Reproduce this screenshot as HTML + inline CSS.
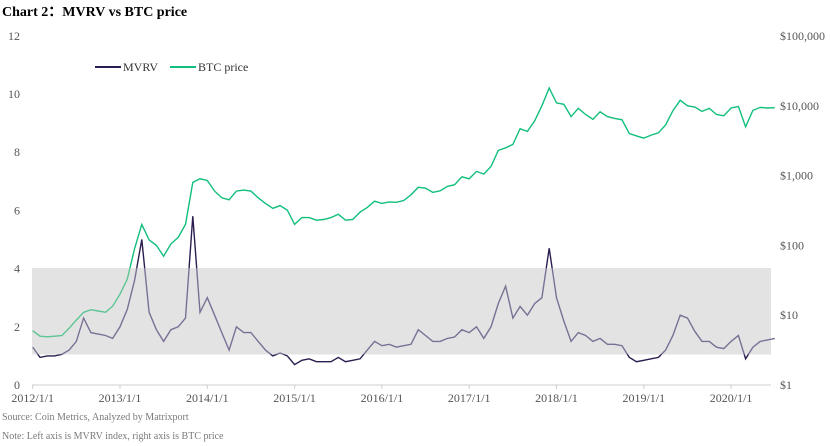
<!DOCTYPE html>
<html><head><meta charset="utf-8">
<style>
html,body{margin:0;padding:0;background:#fff;width:830px;height:446px;overflow:hidden}
svg{display:block;font-family:"Liberation Serif",serif}
</style></head>
<body>
<svg id="chart" width="830" height="446">
<text x="2" y="16" font-size="14" font-weight="bold" fill="#000">Chart 2：MVRV vs BTC price</text>
<rect x="32" y="268" width="739" height="86.5" fill="#e3e3e3"/>
<g id="yl"></g>
<g id="yr"></g>
<g id="xa"></g>
<g id="series"></g>
<g>
<g><line x1="95" y1="67" x2="121" y2="67" stroke="#2b1d4f" stroke-width="2"/><text x="123" y="71" font-size="12" fill="#333">MVRV</text></g>
<g><line x1="170" y1="67" x2="196" y2="67" stroke="#10bf7b" stroke-width="2"/><text x="198" y="71" font-size="12" fill="#333">BTC price</text></g>
</g>
<text x="2" y="420" font-size="10" fill="#7a7a7a">Source: Coin Metrics, Analyzed by Matrixport</text>
<text x="2" y="439" font-size="10" fill="#7a7a7a">Note: Left axis is MVRV index, right axis is BTC price</text>
</svg>
<script>
const leftTicks=[0,2,4,6,8,10,12];
const rightTicks=[1,10,100,1000,10000,100000];
const rightLabels=["$1","$10","$100","$1,000","$10,000","$100,000"];
const yearTicks=[2012,2013,2014,2015,2016,2017,2018,2019,2020];
const btcPrice=[6,5,4.9,5,5.1,6.5,8.5,11,12,11.5,11,13.5,
20,33,90,200,120,100,70,105,130,200,800,900,
850,600,480,450,600,620,600,480,400,340,370,320,
200,250,250,230,235,250,280,230,235,300,350,430,
400,420,415,440,530,680,660,575,605,700,740,960,
900,1150,1050,1350,2300,2500,2800,4700,4300,6100,10000,18000,
11000,10500,7000,9200,7500,6400,8200,7000,6600,6300,4000,3700,
3450,3800,4100,5300,8500,12000,10000,9600,8300,9200,7500,7200,
9300,9800,5000,8600,9500,9300,9400];
const mvrv=[1.3,0.95,1.0,1.0,1.05,1.2,1.5,2.3,1.8,1.75,1.7,1.6,
2.0,2.6,3.6,5.0,2.5,1.9,1.5,1.9,2.0,2.3,5.8,2.5,
3.0,2.4,1.8,1.2,2.0,1.8,1.8,1.5,1.2,1.0,1.1,1.0,
0.7,0.85,0.9,0.8,0.8,0.8,0.95,0.8,0.85,0.9,1.2,1.5,
1.35,1.4,1.3,1.35,1.4,1.9,1.7,1.5,1.5,1.6,1.65,1.9,
1.8,2.0,1.6,2.0,2.8,3.4,2.3,2.7,2.4,2.8,3.0,4.7,
3.0,2.2,1.5,1.8,1.7,1.5,1.6,1.4,1.4,1.35,0.95,0.8,
0.85,0.9,0.95,1.2,1.7,2.4,2.3,1.85,1.5,1.5,1.3,1.25,
1.5,1.7,0.9,1.3,1.5,1.55,1.6];
const startYear=2012, x0=32.7, pxPerYear=87.3;
function xs(i){return x0+(i/12)*pxPerYear;}
function xy(y){return x0+(y-startYear)*pxPerYear;}
function yL(v){return 385-v*29.1;}
function yR(p){return 385-Math.log10(p)*69.8;}
const NS="http://www.w3.org/2000/svg";
function mk(tag,attrs,parent){const e=document.createElementNS(NS,tag);for(const k in attrs)e.setAttribute(k,attrs[k]);parent.appendChild(e);return e;}
const yl=document.getElementById('yl'),yr=document.getElementById('yr'),xa=document.getElementById('xa'),sr=document.getElementById('series');
leftTicks.forEach(v=>{const t=mk('text',{x:20,y:yL(v)+4,'font-size':12,fill:'#555','text-anchor':'end'},yl);t.textContent=v;

});
rightTicks.forEach((v,i)=>{const t=mk('text',{x:780,y:yR(v)+4,'font-size':12,fill:'#555'},yr);t.textContent=rightLabels[i];

});
mk('line',{x1:32,y1:385,x2:771,y2:385,stroke:'#cfcfcf','stroke-width':1},xa);
yearTicks.forEach(y=>{const x=xy(y);mk('line',{x1:x,y1:385,x2:x,y2:389,stroke:'#cfcfcf'},xa);
const t=mk('text',{x:x,y:402,'font-size':12,fill:'#555','text-anchor':'middle'},xa);t.textContent=y+'/1/1';

});
const defs=mk('defs',{},sr);
const cp=mk('clipPath',{id:'band'},defs);mk('rect',{x:0,y:268,width:830,height:86.5},cp);
const cpo=mk('clipPath',{id:'out'},defs);mk('path',{d:'M0 0H830V268H0Z M0 354.5H830V446H0Z'},cpo);
const btcD=btcPrice.map((p,i)=>(i?'L':'M')+xs(i).toFixed(1)+' '+yR(p).toFixed(1)).join('');
const mD=mvrv.map((v,i)=>(i?'L':'M')+xs(i).toFixed(1)+' '+yL(v).toFixed(1)).join('');
const b1=mk('path',{d:btcD,fill:'none',stroke:'#10bf7b','stroke-width':1.4,'clip-path':'url(#out)'},sr);


const b2=mk('path',{d:btcD,fill:'none',stroke:'#5cc594','stroke-width':1.4,'clip-path':'url(#band)'},sr);


const m1=mk('path',{d:mD,fill:'none',stroke:'#2b1d4f','stroke-width':1.4,'clip-path':'url(#out)'},sr);


const m2=mk('path',{d:mD,fill:'none',stroke:'#7a7095','stroke-width':1.4,'clip-path':'url(#band)'},sr);


</script>
</body></html>
